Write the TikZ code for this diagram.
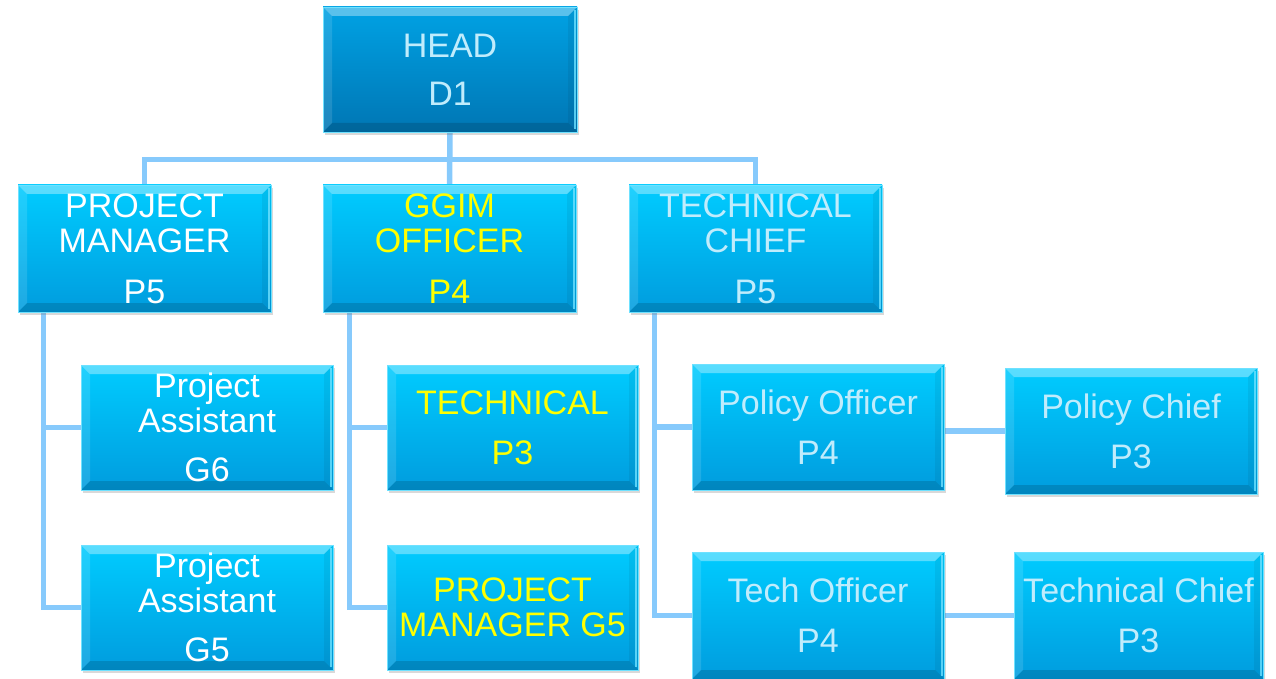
\documentclass[tikz,border=0pt]{standalone}
\usepackage{fontspec}
\setmainfont{Liberation Sans}
\usetikzlibrary{shadows,backgrounds,calc}
\definecolor{conncol}{RGB}{135,202,252}
\definecolor{boxtop}{RGB}{0,204,255}
\definecolor{boxbot}{RGB}{0,156,222}
\definecolor{headtop}{RGB}{0,162,228}
\definecolor{headbot}{RGB}{0,118,180}
\definecolor{edgecol}{RGB}{110,225,255}
\definecolor{pale}{RGB}{192,236,252}
\definecolor{yel}{RGB}{255,255,0}
\tikzset{
  bevel/.style={path picture={
    \fill[white,opacity=.35] (path picture bounding box.north west) -- (path picture bounding box.north east)
      -- ([xshift=-9pt,yshift=-9pt]path picture bounding box.north east) -- ([xshift=9pt,yshift=-9pt]path picture bounding box.north west) -- cycle;
    \fill[white,opacity=.12] (path picture bounding box.north west) -- (path picture bounding box.south west)
      -- ([xshift=9pt,yshift=9pt]path picture bounding box.south west) -- ([xshift=9pt,yshift=-9pt]path picture bounding box.north west) -- cycle;
    \fill[black,opacity=.06] (path picture bounding box.north east) -- (path picture bounding box.south east)
      -- ([xshift=-9pt,yshift=9pt]path picture bounding box.south east) -- ([xshift=-9pt,yshift=-9pt]path picture bounding box.north east) -- cycle;
    \fill[black,opacity=.14] (path picture bounding box.south west) -- (path picture bounding box.south east)
      -- ([xshift=-9pt,yshift=9pt]path picture bounding box.south east) -- ([xshift=9pt,yshift=9pt]path picture bounding box.south west) -- cycle;
    \draw[edgecol,line width=1.6pt,opacity=.8] ([xshift=-1.8pt,yshift=-3pt]path picture bounding box.north east) -- ([xshift=-1.8pt,yshift=3pt]path picture bounding box.south east);
  }},
  box/.style={rectangle, minimum width=252pt, minimum height=126pt, inner sep=0pt,
    top color=boxtop, bottom color=boxbot, draw=edgecol, line width=.6pt,
    drop shadow={shadow xshift=2pt,shadow yshift=-3pt,opacity=.3},
    bevel, align=center, font=\fontsize{34}{35}\selectfont},
  headbox/.style={top color=headtop, bottom color=headbot, minimum width=254pt, minimum height=125pt},
  conn/.style={draw=conncol, line width=5.5pt},
}
\begin{document}
\begin{tikzpicture}[x=1pt,y=-1pt]
\useasboundingbox (0,0) rectangle (1276,679);
\node[box, headbox, text=pale] (head) at (450,69.5) {HEAD\\[13pt]D1};
\node[box, minimum width=253pt, minimum height=127pt, text=white] (pm) at (144.5,248.5) {PROJECT\\MANAGER\\[16pt]P5};
\node[box, minimum width=253pt, minimum height=127pt, text=yel] (gg) at (449.5,248.5) {GGIM\\OFFICER\\[16pt]P4};
\node[box, minimum width=253pt, minimum height=127pt, text=pale] (tc) at (755.5,248.5) {TECHNICAL\\CHIEF\\[16pt]P5};
\node[box, minimum height=125pt, text=white] (pa6) at (207,427.5) {Project\\Assistant\\[14pt]G6};
\node[box, minimum height=125pt, text=white] (pa5) at (207,607.5) {Project\\Assistant\\[14pt]G5};
\node[box, minimum width=251pt, minimum height=125pt, text=yel] (tp) at (512.5,427.5) {TECHNICAL\\[15pt]P3};
\node[box, minimum width=251pt, minimum height=125pt, text=yel] (pg) at (512.5,607.5) {PROJECT\\MANAGER G5};
\node[box, text=pale] (po) at (818,427) {Policy Officer\\[15pt]P4};
\node[box, minimum height=127pt, text=pale] (to) at (818,615.5) {Tech Officer\\[15pt]P4};
\node[box, text=pale] (pc) at (1131,431) {Policy Chief\\[15pt]P3};
\node[box, minimum width=249pt, minimum height=127pt, text=pale] (tch) at (1138.5,615.5) {Technical Chief\\[15pt]P3};
\begin{scope}[on background layer]
\draw[conn] (head.south) -- (gg.north);
\draw[conn] (pm.north) -- ++(0,-25) -| (tc.north);
\draw[conn] ([xshift=26pt]pm.south west) |- (pa6.west);
\draw[conn] ([xshift=26pt]pm.south west) |- (pa5.west);
\draw[conn] ([xshift=27pt]gg.south west) |- (tp.west);
\draw[conn] ([xshift=27pt]gg.south west) |- (pg.west);
\draw[conn] ([xshift=26pt]tc.south west) |- (po.west);
\draw[conn] ([xshift=26pt]tc.south west) |- (to.west);
\draw[conn] (pc.west) -- (pc.west -| po.east);
\draw[conn] (tch.west) -- (tch.west -| to.east);
\end{scope}
\end{tikzpicture}
\end{document}
